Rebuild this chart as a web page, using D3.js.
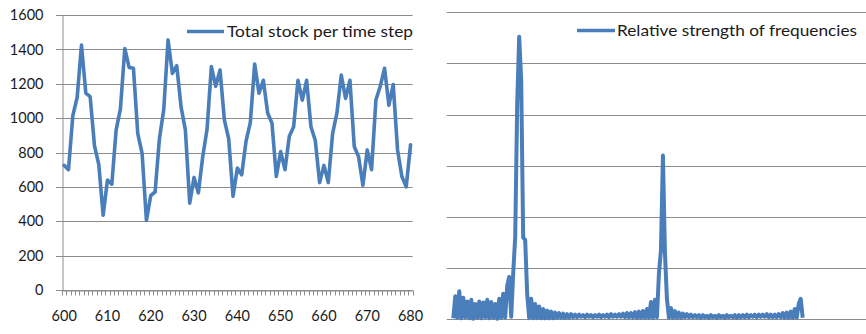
<!DOCTYPE html>
<html>
<head>
<meta charset="utf-8">
<script src="https://cdn.jsdelivr.net/npm/d3@7"></script>
<style>
  body { margin: 0; background: #fff; }
  svg { display: block; }
  text { font-family: Lato, "Open Sans", sans-serif; fill: #1a1a1a; }
</style>
</head>
<body>
<svg id="chart" width="866" height="334"></svg>
<script>
// Time steps on the category axis
const steps = d3.range(600, 681);
const stepLabels = [600, 610, 620, 630, 640, 650, 660, 670, 680];
const stockTicks = [0, 200, 400, 600, 800, 1000, 1200, 1400, 1600];

// Total stock recorded at each time step
const stock = [
  725, 700, 1015, 1120, 1425, 1145, 1125, 840, 730, 435,
  640, 615, 930, 1055, 1405, 1295, 1290, 910, 795, 405,
  550, 570, 880, 1050, 1455, 1260, 1305, 1065, 930, 505,
  655, 565, 775, 935, 1300, 1185, 1280, 990, 880, 545,
  710, 670, 865, 975, 1315, 1145, 1220, 1030, 970, 660,
  805, 700, 895, 950, 1220, 1105, 1220, 950, 870, 625,
  725, 625, 910, 1030, 1250, 1115, 1220, 835, 775, 610,
  815, 700, 1105, 1185, 1290, 1075, 1195, 815, 660, 600,
  845
];

// Relative strength of each frequency bin (spectrum of the stock series)
const spectrum = [
  0.02, 0.45, 0.03, 0.55, 0.02, 0.42, 0.04, 0.35, 0.02, 0.38,
  0.01, 0.30, 0.03, 0.35, 0.02, 0.33, 0.04, 0.38, 0.02, 0.34,
  0.03, 0.30, 0.01, 0.40, 0.03, 0.50, 0.04, 0.65, 0.83, 0.05,
  0.90, 1.60, 4.20, 5.52, 4.68, 1.60, 1.55, 0.50, 0.03, 0.40,
  0.02, 0.30, 0.02, 0.25, 0.02, 0.20, 0.02, 0.17, 0.02, 0.15,
  0.02, 0.13, 0.03, 0.12, 0.03, 0.11, 0.03, 0.10, 0.03, 0.10,
  0.04, 0.09, 0.04, 0.09, 0.05, 0.08, 0.04, 0.09, 0.05, 0.08,
  0.04, 0.08, 0.05, 0.09, 0.04, 0.08, 0.05, 0.09, 0.04, 0.10,
  0.05, 0.09, 0.05, 0.10, 0.05, 0.11, 0.04, 0.12, 0.04, 0.12,
  0.04, 0.14, 0.03, 0.15, 0.03, 0.16, 0.03, 0.20, 0.03, 0.34,
  0.03, 0.38, 0.04, 0.90, 1.35, 3.20, 1.30, 0.40, 0.03, 0.22,
  0.03, 0.16, 0.03, 0.13, 0.03, 0.11, 0.04, 0.10, 0.04, 0.09,
  0.04, 0.08, 0.04, 0.08, 0.03, 0.08, 0.04, 0.07, 0.03, 0.08,
  0.04, 0.07, 0.03, 0.08, 0.04, 0.07, 0.03, 0.08, 0.04, 0.07,
  0.04, 0.08, 0.03, 0.08, 0.04, 0.08, 0.04, 0.09, 0.04, 0.08,
  0.05, 0.09, 0.04, 0.09, 0.05, 0.09, 0.05, 0.10, 0.04, 0.09,
  0.04, 0.09, 0.04, 0.10, 0.04, 0.12, 0.03, 0.13, 0.03, 0.15,
  0.03, 0.20, 0.03, 0.30, 0.40, 0.03
];
const spectrumTicks = [0, 1, 2, 3, 4, 5, 6];

const stockLabel = "Total stock per time step";
const spectrumLabel = "Relative strength of frequencies";

const BLUE = "#4a7ebb";
const GRID = "#8c8c8c";

const svg = d3.select("#chart");

// ---------- Left panel: stock over time ----------
const x = d3.scaleBand().domain(steps).range([62, 412.7]);
const y = d3.scaleLinear().domain([0, 1600]).range([290, 15]);

const left = svg.append("g");

// horizontal gridlines (extend a little left of the axis as tick marks)
left.append("g")
  .selectAll("line")
  .data(stockTicks)
  .join("line")
  .attr("x1", 56).attr("x2", 412.7)
  .attr("y1", d => Math.round(y(d)) + 0.5)
  .attr("y2", d => Math.round(y(d)) + 0.5)
  .attr("stroke", GRID).attr("stroke-width", 1);

// vertical value axis
const yAxis = left.append("g")
  .attr("transform", "translate(62.5,0)")
  .call(d3.axisLeft(y).tickValues(stockTicks).tickFormat(d3.format("d"))
    .tickSize(0).tickPadding(19));
yAxis.select(".domain").attr("stroke", GRID);
yAxis.selectAll("text")
  .attr("font-size", 14.5)
  .attr("font-family", "Lato, sans-serif")
  .attr("fill", "#1a1a1a");

// category axis: line, minor ticks at every step boundary, labels every 10 steps
const xAxis = left.append("g")
  .attr("transform", "translate(0,290.5)")
  .call(d3.axisBottom(x).tickValues(stepLabels).tickSize(0).tickPadding(0));
xAxis.select(".domain").attr("stroke", GRID);
xAxis.selectAll("text")
  .attr("y", 30).attr("dy", null)
  .attr("font-size", 14.5)
  .attr("font-family", "Lato, sans-serif")
  .attr("fill", "#1a1a1a");

const boundaries = steps.map(s => x(s)).concat([x.range()[1]]);
xAxis.append("g")
  .selectAll("line")
  .data(boundaries)
  .join("line")
  .attr("x1", d => Math.round(d) + 0.5).attr("x2", d => Math.round(d) + 0.5)
  .attr("y1", 0).attr("y2", 5)
  .attr("stroke", GRID).attr("stroke-width", 1);

// stock line
left.append("path")
  .datum(stock)
  .attr("fill", "none")
  .attr("stroke", BLUE)
  .attr("stroke-width", 3.6)
  .attr("stroke-linejoin", "round")
  .attr("stroke-linecap", "round")
  .attr("d", d3.line()
    .x((d, i) => x(steps[i]) + x.bandwidth() / 2)
    .y(d => y(d)));

// legend
const lg1 = left.append("g");
lg1.append("line")
  .attr("x1", 187).attr("x2", 224).attr("y1", 31.5).attr("y2", 31.5)
  .attr("stroke", BLUE).attr("stroke-width", 3.6);
lg1.append("text")
  .attr("x", 227).attr("y", 36.5)
  .attr("font-size", 15)
  .attr("textLength", 186)
  .attr("lengthAdjust", "spacingAndGlyphs")
  .text(stockLabel);

// ---------- Right panel: frequency spectrum ----------
const xs = d3.scaleLinear().domain([0, spectrum.length - 1]).range([453.3, 802.7]);
const ys = d3.scaleLinear().domain([0, 6]).range([319.3, 12.3]);

const right = svg.append("g");

right.append("g")
  .selectAll("line")
  .data(spectrumTicks)
  .join("line")
  .attr("x1", 446.7).attr("x2", 866)
  .attr("y1", d => Math.round(ys(d)) + 0.5)
  .attr("y2", d => Math.round(ys(d)) + 0.5)
  .attr("stroke", GRID).attr("stroke-width", 1);

right.append("path")
  .datum(spectrum)
  .attr("fill", "none")
  .attr("stroke", BLUE)
  .attr("stroke-width", 4)
  .attr("stroke-linejoin", "round")
  .attr("d", d3.line()
    .x((d, i) => xs(i))
    .y(d => ys(d)));

const lg2 = right.append("g");
lg2.append("line")
  .attr("x1", 577).attr("x2", 615).attr("y1", 30.5).attr("y2", 30.5)
  .attr("stroke", BLUE).attr("stroke-width", 3.6);
lg2.append("text")
  .attr("x", 617).attr("y", 35.5)
  .attr("font-size", 15)
  .attr("textLength", 240)
  .attr("lengthAdjust", "spacingAndGlyphs")
  .text(spectrumLabel);
</script>
</body>
</html>
